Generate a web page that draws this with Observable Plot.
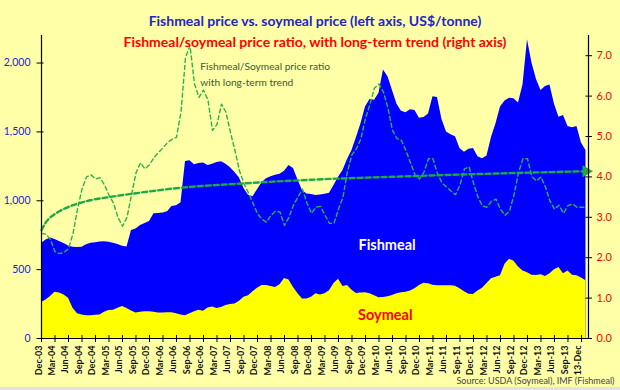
<!DOCTYPE html>
<html><head><meta charset="utf-8">
<script src="https://cdn.jsdelivr.net/npm/d3@7"></script>
<script src="https://cdn.jsdelivr.net/npm/@observablehq/plot@0.6"></script>
<style>
html,body{margin:0;padding:0;background:#e2e2e2;}
#chart svg{display:block;background:#ffffa8;font-family:Lato,sans-serif;}
</style></head><body><div id="chart"></div>
<script>
// Monthly, Dec-03 (index 0) .. Jan-14 (index 121)
const fishmeal = [
 690,715,730,718,705,690,672,662,660,663,
 680,692,696,700,703,698,692,683,670,665,
 785,795,820,835,850,905,908,912,920,958,
 963,985,1285,1290,1262,1270,1275,1256,1265,1278,
 1284,1265,1240,1205,1165,1090,1040,1030,1080,1130,
 1160,1175,1185,1193,1215,1256,1235,1150,1075,1050,
 1045,1038,1042,1048,1055,1110,1170,1220,1300,1365,
 1460,1560,1680,1735,1730,1780,1950,1900,1800,1700,
 1650,1640,1661,1656,1600,1605,1630,1755,1750,1590,
 1500,1480,1465,1380,1353,1375,1380,1320,1305,1325,
 1460,1560,1680,1725,1745,1740,1710,1840,2170,2000,
 1880,1800,1830,1840,1700,1607,1620,1540,1530,1540,
 1420,1365];
const soymeal = [
 262,280,305,335,330,315,292,220,180,170,
 165,166,168,170,190,203,206,220,232,218,
 200,186,190,195,194,190,185,186,187,187,
 180,170,166,180,195,205,198,222,228,218,
 225,240,247,250,270,300,310,340,365,385,
 385,378,370,390,435,425,370,325,287,287,
 300,325,315,325,347,400,430,378,385,350,
 327,330,333,325,310,295,298,303,312,325,
 332,335,345,362,385,402,398,386,383,383,
 383,383,380,362,340,322,320,345,365,400,
 433,445,456,540,575,560,520,490,478,460,
 458,462,450,470,500,515,470,490,460,456,
 440,420];
const ratio = [
 2.6,2.58,2.45,2.15,2.10,2.13,2.22,2.6,3.2,3.7,
 4.0,4.05,3.95,3.98,3.8,3.55,3.35,3.0,2.78,3.0,
 3.55,4.1,4.35,4.2,4.3,4.48,4.6,4.72,4.85,4.93,
 4.98,5.6,6.95,7.25,6.3,5.97,6.15,5.9,5.15,5.3,
 5.8,5.6,5.1,4.65,4.15,3.83,3.6,3.35,3.09,2.95,
 2.88,3.05,3.15,3.13,2.8,3.0,3.3,3.5,3.7,3.35,
 3.1,3.25,3.27,3.05,2.85,2.85,3.2,3.5,4.14,4.55,
 4.7,4.95,5.45,5.8,6.2,6.3,6.1,5.7,5.15,4.95,
 4.9,4.65,4.35,4.05,3.95,4.12,4.45,4.45,4.08,3.85,
 3.75,3.65,3.56,3.8,4.2,4.25,3.85,3.5,3.28,3.25,
 3.4,3.45,3.2,3.05,3.15,3.55,4.1,4.45,4.45,4.0,
 3.9,4.0,3.75,3.4,3.2,3.3,3.1,3.29,3.33,3.25,
 3.25,3.25];
// long-term (logarithmic) trend of the ratio, read at a few months
const trendMonth = [0,1,2,4,7,10,15,20,30,45,60,80,100,121];
const trendValue = [2.68,2.88,3.0,3.15,3.3,3.4,3.5,3.58,3.72,3.84,3.93,4.01,4.08,4.14];

const tickLabels = ["Dec-03","Mar-04","Jun-04","Sep-04","Dec-04","Mar-05","Jun-05","Sep-05",
 "Dec-05","Mar-06","Jun-06","Sep-06","Dec-06","Mar-07","Jun-07","Sep-07","Dec-07","Mar-08",
 "Jun-08","Sep-08","Dec-08","Mar-09","Jun-09","Sep-09","Dec-09","Mar-10","Jun-10","Sep-10",
 "Dec-10","Mar-11","Jun-11","Sep-11","Dec-11","Mar-12","Jun-12","Sep-12","Dec-12","Mar-13",
 "Jun-13","Sep-13","13-Dec"];
const tickMonths = tickLabels.map((_, k) => k * 3);
const leftTicks = [0, 500, 1000, 1500, 2000];
const rightTicks = [0, 1, 2, 3, 4, 5, 6, 7];

const LEFT_MAX = 2200, RIGHT_MAX = 7.5, K = LEFT_MAX / RIGHT_MAX;
const X_MAX = 121.56;
const pxX = X_MAX / 547, pxY = LEFT_MAX / 303;

const rows = fishmeal.map((f, i) => ({i, fish: f, soy: soymeal[i], ratio: ratio[i] * K}));
const trend = trendMonth.map((m, k) => ({i: m, v: trendValue[k] * K}));

const blue = "#2424c8", red = "#ff0000", green = "#2bb24c", tgreen = "#1ea846";

const chart = Plot.plot({
  width: 620, height: 387,
  marginTop: 35, marginBottom: 49, marginLeft: 41, marginRight: 32,
  x: {domain: [0, X_MAX], axis: null},
  y: {domain: [0, LEFT_MAX], axis: null},
  style: {fontFamily: "Lato, sans-serif", background: "#ffffa8"},
  marks: [
    Plot.areaY(rows, {x: "i", y: "fish", fill: "#0000ff"}),
    Plot.areaY(rows, {x: "i", y: "soy", fill: "#ffff00"}),
    Plot.line(rows, {x: "i", y: "ratio", stroke: green, strokeWidth: 1.4, strokeDasharray: "4,3"}),
    Plot.line(trend, {x: "i", y: "v", stroke: tgreen, strokeWidth: 2.4, strokeDasharray: "5,3", curve: "monotone-x"}),
    Plot.dot(trend.slice(-1), {x: "i", y: "v", symbol: "triangle", rotate: 90, r: 4.5, fill: tgreen, dx: 0}),
    // axes lines
    Plot.ruleX([0, X_MAX], {stroke: "#000", strokeWidth: 1.2}),
    Plot.ruleY([0], {stroke: "#000", strokeWidth: 1.2}),
    // left ticks & labels
    Plot.ruleY(leftTicks, {y: d => d, x1: -4.5 * pxX, x2: 2.5 * pxX, stroke: "#000"}),
    Plot.text(leftTicks, {y: d => d, frameAnchor: "left", textAnchor: "end", dx: -11,
      text: d => d3.format(",")(d), fill: blue, fontSize: 10.5}),
    // right ticks & labels
    Plot.ruleY(rightTicks, {y: d => d * K, x1: X_MAX - 2.5 * pxX, x2: X_MAX + 4 * pxX, stroke: "#000"}),
    Plot.text(rightTicks, {y: d => d * K, frameAnchor: "right", textAnchor: "start", dx: 8,
      text: d => d.toFixed(1), fill: red, fontSize: 11}),
    // x ticks & labels
    Plot.ruleX(tickMonths, {x: d => d, y1: -4 * pxY, y2: 3 * pxY, stroke: "#000"}),
    Plot.text(tickMonths, {x: d => d, text: (d, k) => tickLabels[k], rotate: -90, frameAnchor: "bottom",
      textAnchor: "end", dy: 7, fontSize: 9, fontWeight: "bold", fill: "#111"}),
    // series labels
    Plot.text(["Fishmeal"], {x: [76.8], y: [674], text: d => d, fill: "#ffffff", fontWeight: "bold", fontSize: 14.5}),
    Plot.text(["Soymeal"], {x: [76.4], y: [165], text: d => d, fill: red, fontWeight: "bold", fontSize: 14.5}),
    Plot.text(["Fishmeal/Soymeal price ratio\nwith long-term trend"], {x: [35.3], y: [1926], text: d => d,
      textAnchor: "start", lineHeight: 1.55, fill: "#3a5a36", fontSize: 10.2}),
    // titles
    Plot.text(["Fishmeal price vs. soymeal price (left axis, US$/tonne)"], {frameAnchor: "top", dy: -19.5,
      text: d => d, fill: blue, fontWeight: "bold", fontSize: 14}),
    Plot.text(["Fishmeal/soymeal price ratio, with long-term trend (right axis)"], {frameAnchor: "top", dy: 1.7,
      text: d => d, fill: red, fontWeight: "bold", fontSize: 14}),
    Plot.text(["Source: USDA (Soymeal), IMF (Fishmeal)"], {frameAnchor: "bottom-right", dx: 26, dy: 45,
      textAnchor: "end", text: d => d, fill: "#444", fontSize: 9})
  ]
});
document.getElementById("chart").appendChild(chart);
</script></body></html>
